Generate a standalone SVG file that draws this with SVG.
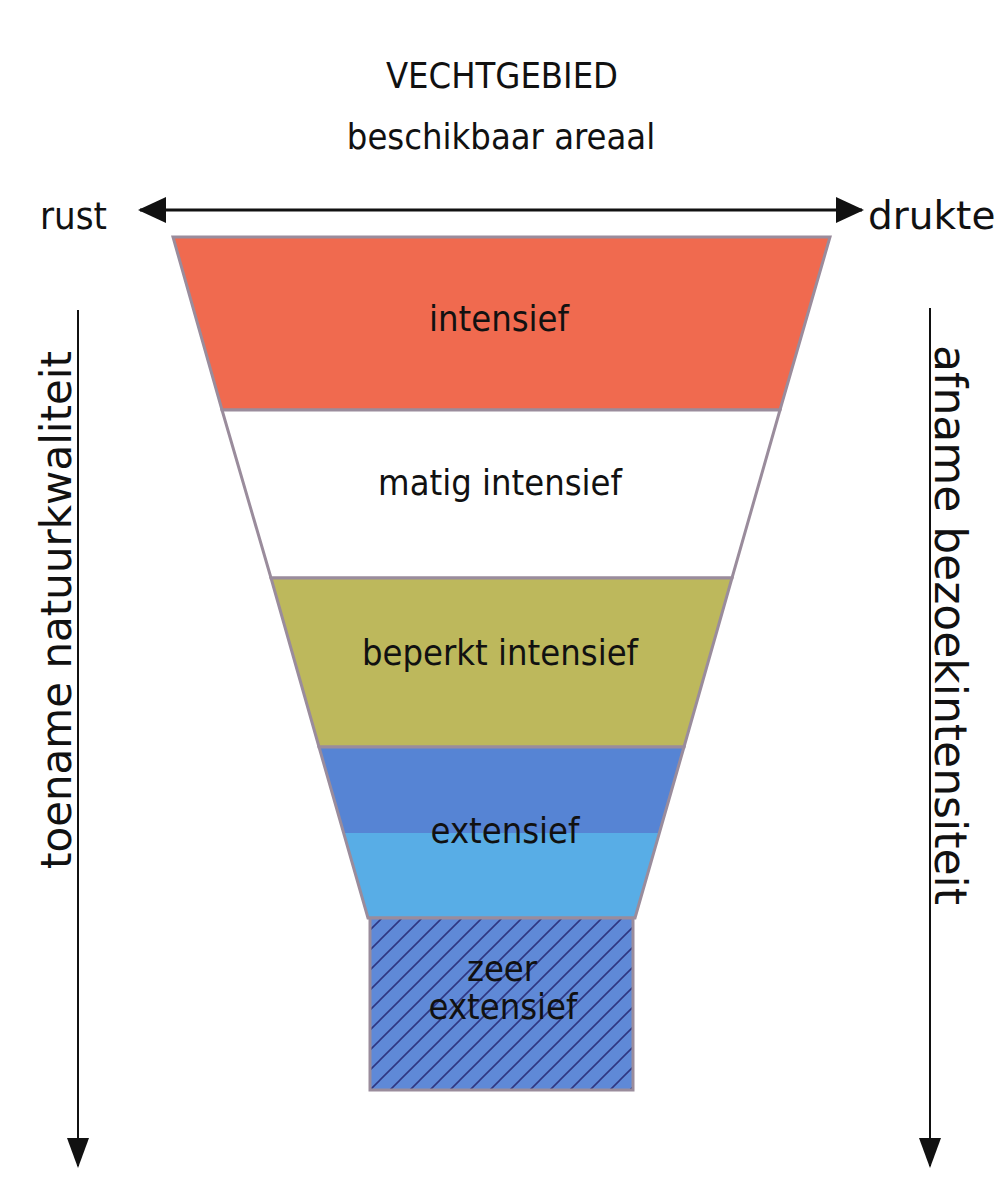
<svg xmlns="http://www.w3.org/2000/svg" width="1004" height="1193" viewBox="0 0 1004 1193">
  <style>
    .t { font-family: "DejaVu Sans Condensed", "DejaVu Sans", sans-serif; font-stretch: condensed; fill: #111; }
    .w { font-family: "DejaVu Sans", sans-serif; fill: #111; }
    .lbl { font-size: 36px; }
    .band { stroke: #9a8c9c; stroke-width: 3; stroke-linejoin: miter; }
    .conn { stroke: #111; fill: none; }
  </style>
  <defs>
    <marker id="ahH" markerUnits="userSpaceOnUse" viewBox="0 0 28 26" markerWidth="28" markerHeight="26" refX="26" refY="13" orient="auto-start-reverse">
      <path d="M0,0 L28,13 L0,26 Z" fill="#111"/>
    </marker>
    <marker id="ahV" markerUnits="userSpaceOnUse" viewBox="0 0 30 22" markerWidth="30" markerHeight="22" refX="28" refY="11" orient="auto">
      <path d="M0,0 L30,11 L0,22 Z" fill="#111"/>
    </marker>
    <pattern id="hatch" patternUnits="userSpaceOnUse" width="20" height="20">
      <rect width="20" height="20" fill="#5f89d7"/>
      <path d="M-5,5 L5,-5 M0,20 L20,0 M15,25 L25,15" stroke="#2f3682" stroke-width="1.6"/>
    </pattern>
  </defs>
  <rect width="1004" height="1193" fill="#ffffff"/>

  <g id="title">
    <text class="t" x="502" y="88" font-size="36" text-anchor="middle">VECHTGEBIED</text>
    <text class="t" x="501" y="149" font-size="36" text-anchor="middle">beschikbaar areaal</text>
  </g>
  <g id="label-rust">
    <text class="t" x="40" y="229" font-size="38">rust</text>
  </g>
  <g id="label-drukte">
    <text class="w" x="868" y="229" font-size="39">drukte</text>
  </g>
  <g id="label-left">
    <text class="w" transform="translate(71,610) rotate(-90)" font-size="42" text-anchor="middle">toename natuurkwaliteit</text>
  </g>
  <g id="label-right">
    <text class="w" transform="translate(935,625) rotate(90)" font-size="44" text-anchor="middle">afname bezoekintensiteit</text>
  </g>

  <g id="band-intensief">
    <polygon class="band" points="173,237 830,237 780,410 222,410" fill="#f06a4f"/>
    <text class="t lbl" x="499" y="331" text-anchor="middle">intensief</text>
  </g>
  <g id="band-matig-intensief">
    <polygon class="band" points="222,410 780,410 732,578 271,578" fill="#ffffff"/>
    <text class="t lbl" x="500" y="495" text-anchor="middle">matig intensief</text>
  </g>
  <g id="band-beperkt-intensief">
    <polygon class="band" points="271,578 732,578 684,747 319,747" fill="#bdb85c"/>
    <text class="t lbl" x="500" y="665" text-anchor="middle">beperkt intensief</text>
  </g>
  <g id="band-extensief">
    <polygon points="319,747 684,747 659,833 344,833" fill="#5684d4"/>
    <polygon points="344,833 659,833 635,918 368,918" fill="#58ade6"/>
    <polygon class="band" points="319,747 684,747 635,918 368,918" fill="none"/>
    <text class="t lbl" x="505" y="843" text-anchor="middle">extensief</text>
  </g>
  <g id="band-zeer-extensief">
    <rect class="band" x="370" y="918" width="263" height="172" fill="url(#hatch)"/>
    <text class="t lbl" x="502" y="981" text-anchor="middle">zeer</text>
    <text class="t lbl" x="503" y="1019" text-anchor="middle">extensief</text>
  </g>

  <g id="connectors">
    <path class="conn" stroke-width="3" d="M140,210 L862,210" marker-start="url(#ahH)" marker-end="url(#ahH)"/>
    <path class="conn" stroke-width="2" d="M78,310 L78,1166" marker-end="url(#ahV)"/>
    <path class="conn" stroke-width="2" d="M930,308 L930,1166" marker-end="url(#ahV)"/>
  </g>
</svg>
